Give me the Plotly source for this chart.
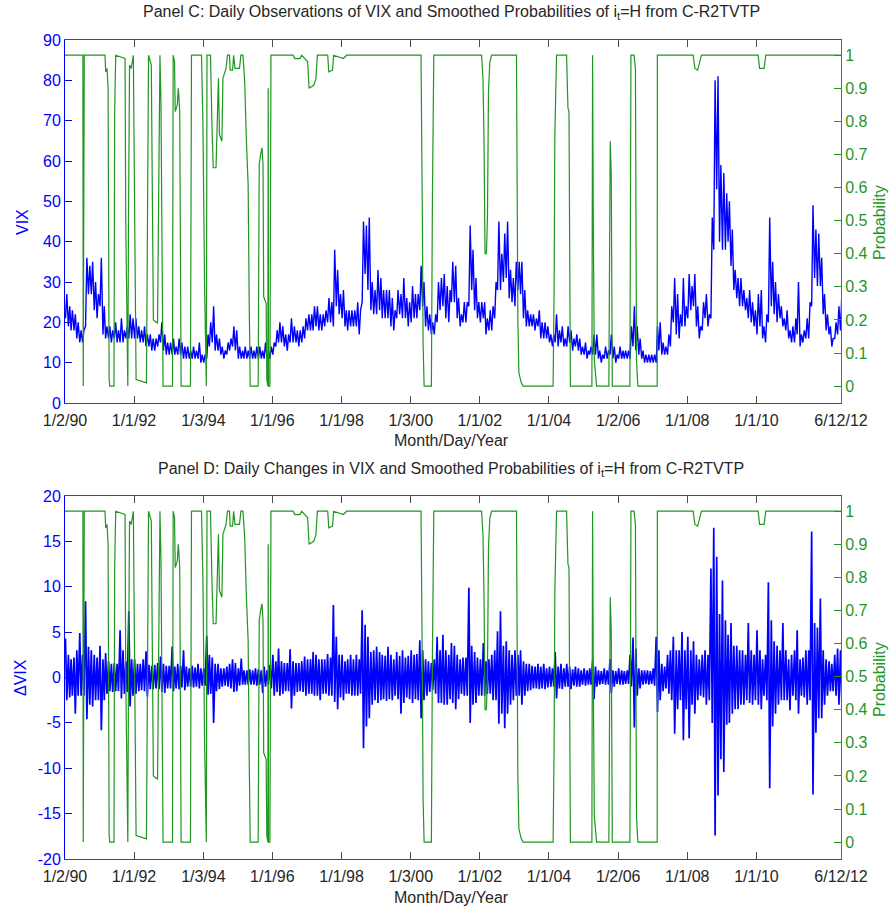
import pandas as pd
import plotly.graph_objects as go
from plotly.subplots import make_subplots

# ---------------- data ----------------
# Monthly low / high of VIX, Jan 1990 .. Jun 2012 (one row per year)
vix_low = [
    21, 19, 18, 18, 16, 15, 15, 19, 27, 27, 23, 21,   # 1990
    24, 17, 16, 16, 15, 16, 15, 15, 15, 16, 16, 16,   # 1991
    16, 16, 15, 15, 14, 14, 13, 13, 14, 15, 13, 12,   # 1992
    12, 12, 12, 12, 12, 11, 11, 11, 11, 11, 11, 10,   # 1993
    10, 11, 14, 15, 13, 13, 12, 11, 12, 13, 14, 13,   # 1994
    11, 11, 11, 11, 11, 11, 11, 11, 11, 11, 11, 11,   # 1995
    12, 14, 15, 15, 14, 13, 15, 15, 15, 14, 15, 16,   # 1996
    18, 18, 18, 19, 18, 18, 19, 20, 20, 19, 24, 22,   # 1997
    21, 19, 18, 19, 19, 19, 17, 25, 32, 28, 23, 22,   # 1998
    22, 23, 21, 21, 21, 19, 18, 21, 22, 21, 21, 19,   # 1999
    20, 21, 21, 23, 24, 19, 18, 17, 17, 20, 23, 24,   # 2000
    21, 20, 25, 25, 21, 19, 20, 20, 24, 28, 23, 21,   # 2001
    20, 21, 17, 18, 18, 21, 28, 28, 30, 31, 26, 25,   # 2002
    24, 28, 27, 21, 19, 19, 19, 18, 19, 16, 16, 16,   # 2003
    15, 14, 15, 14, 15, 14, 14, 15, 13, 14, 13, 12,   # 2004
    12, 11, 12, 12, 12, 11, 10, 11, 11, 12, 11, 10,   # 2005
    11, 11, 11, 11, 11, 14, 13, 12, 11, 10, 10, 10,   # 2006
    10, 10, 13, 12, 12, 12, 14, 20, 17, 16, 19, 19,   # 2007
    21, 23, 24, 19, 16, 18, 21, 19, 21, 38, 53, 40,   # 2008
    38, 38, 40, 34, 28, 26, 24, 24, 23, 21, 20, 19,   # 2009
    17, 19, 16, 15, 20, 24, 22, 20, 21, 19, 18, 16,   # 2010
    15, 15, 17, 14, 15, 16, 16, 24, 31, 29, 29, 22,   # 2011
    18, 17, 14, 16, 17, 18,                           # 2012
]
vix_high = [
    27, 24, 23, 22, 20, 18, 18, 36, 34, 35, 30, 27,   # 1990
    36, 24, 19, 19, 18, 20, 18, 21, 18, 19, 22, 21,   # 1991
    21, 19, 18, 19, 17, 17, 16, 16, 17, 20, 17, 15,   # 1992
    15, 16, 14, 16, 15, 14, 14, 13, 14, 13, 15, 12,   # 1993
    12, 17, 20, 24, 17, 16, 14, 13, 15, 16, 19, 18,   # 1994
    14, 13, 14, 13, 14, 13, 14, 14, 13, 15, 13, 14,   # 1995
    15, 18, 20, 19, 17, 17, 21, 19, 18, 18, 19, 21,   # 1996
    22, 22, 24, 24, 22, 22, 23, 26, 25, 38, 33, 27,   # 1997
    28, 23, 23, 23, 23, 25, 23, 45, 44, 46, 30, 28,   # 1998
    33, 31, 28, 28, 28, 26, 23, 28, 27, 31, 26, 25,   # 1999
    29, 27, 27, 34, 30, 24, 22, 20, 22, 30, 31, 32,   # 2000
    29, 28, 35, 34, 26, 22, 25, 25, 44, 38, 31, 25,   # 2001
    25, 25, 21, 23, 24, 30, 45, 37, 42, 45, 33, 31,   # 2002
    35, 35, 35, 28, 23, 22, 22, 21, 23, 20, 20, 19,   # 2003
    17, 17, 22, 18, 19, 16, 19, 18, 16, 17, 16, 14,   # 2004
    15, 13, 14, 17, 17, 13, 12, 14, 13, 17, 14, 12,   # 2005
    14, 13, 13, 13, 19, 24, 19, 16, 13, 12, 12, 12,   # 2006
    12, 19, 20, 15, 14, 17, 24, 31, 27, 22, 31, 24,   # 2007
    32, 29, 32, 24, 19, 25, 27, 22, 46, 80, 81, 59,   # 2008
    57, 52, 50, 43, 33, 31, 31, 28, 26, 28, 25, 23,   # 2009
    27, 28, 19, 22, 46, 35, 30, 27, 24, 21, 23, 18,   # 2010
    19, 21, 30, 17, 18, 21, 25, 49, 43, 42, 36, 27,   # 2011
    22, 19, 16, 20, 24, 27,                           # 2012
]
# Monthly largest rise / largest fall of daily VIX changes
dvix_max = [
    4.3, 2.5, 2.0, 2.2, 3.0, 4.9, 2.5, 8.4, 3.4, 3.0, 2.5, 2.2,   # 1990
    3.5, 2.0, 2.7, 1.8, 1.5, 1.6, 1.5, 5.2, 3.0, 1.8, 7.3, 2.0,   # 1991
    2.0, 1.5, 1.5, 2.0, 2.9, 1.4, 1.3, 1.4, 1.6, 2.3, 1.5, 1.3,   # 1992
    1.3, 3.4, 1.2, 1.5, 1.3, 3.0, 1.2, 1.0, 1.3, 1.1, 1.5, 1.0,   # 1993
    1.0, 4.6, 2.5, 2.2, 1.5, 1.5, 1.0, 1.0, 1.2, 1.5, 2.0, 1.6,   # 1994
    1.0, 2.1, 0.8, 0.8, 0.9, 0.8, 1.0, 0.9, 0.8, 1.2, 0.8, 1.4,   # 1995
    2.5, 1.8, 3.2, 1.8, 1.6, 1.6, 3.1, 1.8, 1.6, 1.6, 1.8, 2.3,   # 1996
    2.0, 2.0, 2.8, 2.5, 2.0, 2.0, 2.0, 2.6, 2.2, 8.0, 4.5, 2.5,   # 1997
    2.5, 1.8, 2.0, 2.5, 2.0, 2.5, 2.0, 7.4, 5.8, 4.5, 2.8, 3.0,   # 1998
    3.4, 2.8, 2.5, 2.4, 3.4, 2.5, 2.0, 2.8, 2.4, 3.0, 2.2, 2.4,   # 1999
    3.0, 2.5, 2.6, 4.1, 3.0, 2.0, 1.8, 1.6, 2.0, 4.5, 3.0, 4.7,   # 2000
    3.0, 2.5, 3.8, 3.5, 2.5, 2.0, 2.2, 2.2, 9.9, 3.5, 2.8, 2.2,   # 2001
    2.0, 3.8, 1.8, 2.0, 2.5, 3.0, 5.1, 7.3, 3.5, 4.0, 3.0, 2.5,   # 2002
    3.0, 2.5, 3.0, 1.8, 1.5, 1.5, 1.3, 1.2, 1.5, 1.2, 1.5, 1.0,   # 2003
    1.2, 1.0, 2.8, 1.2, 1.5, 1.0, 1.5, 1.2, 0.9, 1.2, 1.0, 0.8,   # 2004
    1.0, 0.8, 1.0, 1.9, 1.2, 0.8, 0.7, 1.0, 0.8, 2.0, 0.8, 0.7,   # 2005
    1.0, 0.8, 0.7, 0.8, 2.5, 4.4, 3.2, 1.0, 0.8, 0.8, 0.8, 0.7,   # 2006
    1.0, 4.5, 3.0, 1.5, 1.2, 2.5, 3.0, 4.5, 3.0, 3.0, 5.0, 3.0,   # 2007
    4.5, 3.0, 4.0, 2.5, 2.0, 2.5, 3.0, 2.5, 12.0, 16.5, 13.3, 7.0,  # 2008
    10.7, 6.3, 4.7, 6.0, 3.5, 3.5, 3.0, 3.0, 2.5, 6.0, 3.0, 2.5,  # 2009
    5.2, 3.0, 2.0, 2.5, 10.5, 6.3, 4.0, 3.5, 3.0, 6.0, 3.0, 2.0,  # 2010
    2.5, 3.0, 5.2, 2.0, 2.2, 3.0, 3.0, 16.1, 6.0, 5.5, 8.7, 3.0,  # 2011
    2.0, 1.8, 1.5, 2.5, 3.2, 3.0,                                 # 2012
]
dvix_min = [
    -2.5, -2.2, -2.0, -4.0, -2.0, -2.0, -2.0, -4.6, -3.0, -3.2, -2.5, -2.5,   # 1990
    -5.8, -2.5, -1.8, -1.5, -1.6, -1.5, -1.5, -2.3, -1.8, -1.6, -3.2, -2.0,   # 1991
    -1.8, -1.5, -1.4, -1.5, -2.1, -1.3, -1.3, -1.2, -1.3, -1.6, -1.7, -1.2,   # 1992
    -1.2, -1.5, -1.2, -1.3, -1.1, -1.4, -1.0, -1.0, -1.1, -1.0, -1.2, -0.9,   # 1993
    -0.9, -1.9, -1.8, -5.0, -1.5, -1.3, -1.0, -0.9, -1.0, -1.2, -1.6, -1.5,   # 1994
    -0.9, -0.8, -0.8, -0.8, -0.8, -0.8, -0.9, -0.8, -1.7, -1.0, -0.8, -1.2,   # 1995
    -2.0, -1.6, -2.0, -1.8, -1.5, -1.5, -3.4, -2.0, -1.6, -1.5, -1.6, -2.0,   # 1996
    -1.8, -1.8, -2.0, -2.0, -2.5, -1.8, -1.8, -2.0, -2.0, -2.7, -3.5, -2.2,   # 1997
    -2.5, -1.8, -1.8, -2.0, -2.0, -2.0, -1.8, -7.8, -5.4, -4.5, -3.0, -2.5,   # 1998
    -2.8, -2.5, -2.4, -2.6, -2.4, -2.5, -2.0, -2.4, -4.0, -2.8, -2.2, -2.4,   # 1999
    -2.8, -2.4, -2.5, -4.5, -2.5, -2.0, -1.6, -1.4, -1.8, -2.8, -2.8, -3.0,   # 2000
    -3.0, -2.4, -2.8, -3.5, -2.4, -1.8, -2.0, -2.0, -5.0, -3.0, -2.8, -2.0,   # 2001
    -2.0, -2.0, -1.8, -1.8, -2.5, -2.5, -5.1, -4.0, -5.6, -4.0, -3.0, -2.5,   # 2002
    -2.0, -2.0, -3.0, -2.0, -1.5, -1.4, -1.2, -1.2, -1.3, -1.2, -1.3, -1.1,   # 2003
    -1.0, -1.0, -2.3, -1.2, -1.3, -1.0, -1.0, -1.3, -0.9, -1.0, -1.0, -0.8,   # 2004
    -0.9, -0.8, -0.8, -2.4, -1.0, -0.8, -0.7, -0.8, -0.8, -1.7, -1.0, -0.7,   # 2005
    -0.8, -0.8, -0.7, -0.7, -1.0, -5.5, -2.0, -1.2, -0.8, -0.7, -0.8, -0.7,   # 2006
    -0.9, -3.8, -2.5, -1.5, -1.2, -1.8, -2.5, -6.2, -3.5, -2.5, -6.9, -3.5,   # 2007
    -6.7, -3.0, -4.0, -2.5, -2.0, -2.2, -3.0, -2.5, -5.0, -17.4, -13.0, -9.0, # 2008
    -10.4, -5.2, -5.0, -4.0, -3.5, -3.5, -3.0, -3.0, -2.5, -2.8, -3.0, -2.5,  # 2009
    -3.0, -3.5, -2.0, -2.5, -12.2, -5.4, -4.0, -3.0, -2.5, -2.5, -2.5, -3.6,  # 2010
    -2.0, -2.5, -4.0, -2.0, -2.2, -3.0, -2.5, -12.9, -6.1, -4.5, -4.5, -3.0,  # 2011
    -2.0, -1.5, -1.5, -2.0, -3.0, -2.8,                                       # 2012
]
# Smoothed probability of i_t = H: (decimal year, probability) break points
prob_year = [
    1990.00, 1990.52, 1990.53, 1990.545, 1990.56,
    1991.16, 1991.18, 1991.22, 1991.25, 1991.28, 1991.30, 1991.42, 1991.44, 1991.47,
    1991.74, 1991.76, 1991.80, 1991.82, 1991.84, 1991.87, 1991.92, 1991.98, 1992.02,
    1992.06, 1992.36, 1992.40, 1992.42,
    1992.50, 1992.53, 1992.56, 1992.68, 1992.72, 1992.75, 1992.78, 1992.82, 1992.84,
    1993.11, 1993.13, 1993.17, 1993.19, 1993.25, 1993.28, 1993.32, 1993.36,
    1993.63, 1993.66, 1993.95, 1993.99, 1994.04, 1994.07, 1994.09, 1994.11, 1994.21,
    1994.25, 1994.29, 1994.37, 1994.41, 1994.44, 1994.47, 1994.54, 1994.57, 1994.66,
    1994.70, 1994.76, 1994.78, 1994.85, 1994.88, 1994.92, 1995.05, 1995.09, 1995.15,
    1995.20, 1995.25, 1995.30, 1995.33, 1995.36, 1995.59, 1995.62, 1995.66, 1995.70,
    1995.73, 1995.75, 1995.82, 1995.84, 1995.87, 1995.88, 1995.89, 1995.93, 1995.96,
    1996.60, 1996.65, 1996.80, 1996.85, 1997.02, 1997.06, 1997.20, 1997.26, 1997.30,
    1997.60, 1997.63, 1997.74, 1997.77, 1998.05, 1998.15,
    2000.30, 2000.34, 2000.36, 2000.39, 2000.60, 2000.63, 2000.67,
    2002.05, 2002.09, 2002.12, 2002.15, 2002.19, 2002.22, 2002.25, 2002.29, 2002.34,
    2003.06, 2003.10, 2003.13, 2003.20, 2003.25,
    2004.12, 2004.15, 2004.17, 2004.22, 2004.51, 2004.55, 2004.58, 2004.61, 2004.62,
    2005.24, 2005.26, 2005.28, 2005.31, 2005.375, 2005.73, 2005.77, 2005.80, 2005.83,
    2006.34, 2006.37, 2006.46, 2006.50, 2006.53, 2006.57,
    2007.13, 2007.135, 2008.17, 2008.22, 2008.30, 2008.36, 2008.41,
    2010.05, 2010.09, 2010.22, 2010.27, 2012.45,
]
prob_value = [
    1, 1, 0, 0.82, 1,
    1, 0.95, 0.96, 0.9, 0.02, 0, 0, 0.83, 1,
    0.99, 0.5, 0, 0, 0.5, 0.97, 0.96, 1, 0.5,
    0.02, 0.01, 0.9, 1,
    0.97, 0.5, 0.2, 0.19, 0.7, 1, 0.85, 0.02, 0,
    0, 1, 0.98, 0.83, 0.85, 0.9, 0.83, 0,
    0, 1, 1, 0.8, 0.3, 0, 0, 1, 1,
    0.8, 0.66, 0.66, 0.8, 0.93, 0.76, 0.74, 0.93, 0.96,
    1, 1, 0.955, 0.955, 1, 0.96, 0.96, 1, 1,
    0.92, 0.74, 0.61, 0.26, 0, 0, 0.67, 0.70, 0.72,
    0.67, 0.27, 0.25, 0.02, 0, 0.9, 0, 0, 1,
    1, 0.99, 0.99, 1, 0.98, 0.90, 0.91, 0.93, 1,
    1, 0.95, 0.955, 1, 0.99, 1,
    1, 0.5, 0.13, 0, 0, 0.57, 1,
    1, 0.93, 0.75, 0.40, 0.40, 0.51, 0.89, 0.98, 1,
    1, 0.2, 0.04, 0.01, 0,
    0, 0.3, 0.76, 1, 1, 0.84, 0.83, 0.05, 0,
    0, 1, 0.5, 0.08, 0, 0, 0.74, 0.64, 0,
    0, 1, 1, 0.96, 0.08, 0,
    0, 1, 1, 0.96, 0.955, 0.98, 1,
    1, 0.96, 0.96, 1, 1,
]
tick_dates = ["1990-01-02", "1992-01-01", "1994-01-03", "1996-01-01", "1998-01-01",
              "2000-01-03", "2002-01-01", "2004-01-01", "2006-01-02", "2008-01-01",
              "2010-01-01", "2012-06-12"]
tick_labels = ["1/2/90", "1/1/92", "1/3/94", "1/1/96", "1/1/98", "1/3/00",
               "1/1/02", "1/1/04", "1/2/06", "1/1/08", "1/1/10", "6/12/12"]
dvix_ticks = [-20, -15, -10, -5, 0, 5, 10, 15, 20]
dvix_tick_labels = ["-20", "-15", "-10", "-5", "0", "5", "10", "15", "20"]
prob_ticks = [0, 0.1, 0.2, 0.3, 0.4, 0.5, 0.6, 0.7, 0.8, 0.9, 1]
prob_tick_labels = ["0", "0.1", "0.2", "0.3", "0.4", "0.5", "0.6", "0.7", "0.8", "0.9", "1"]

assert len(vix_low) == len(vix_high) == len(dvix_max) == len(dvix_min) == 270
assert len(prob_year) == len(prob_value)

# ---------------- build series ----------------
months = pd.date_range("1990-01-01", periods=270, freq="MS")


def zigzag(first, second):
    xs, ys = [], []
    for m, a, b in zip(months, first, second):
        xs += [m + pd.Timedelta(days=6), m + pd.Timedelta(days=20)]
        ys += [a, b]
    return xs, ys


def from_decimal(y):
    base = int(y)
    return pd.Timestamp(f"{base}-01-01") + pd.Timedelta(days=(y - base) * 365.25)


vix_x, vix_y = zigzag(vix_low, vix_high)
dv_x, dv_y = zigzag(dvix_max, dvix_min)
prob_x = [from_decimal(y) for y in prob_year]

BLUE = "#0000FF"
GREEN = "#1f961f"
FONT = "Liberation Sans, Arial, sans-serif"
TXT = "#262626"
AX = "#4d4d4d"

fig = make_subplots(rows=2, cols=1, specs=[[{"secondary_y": True}], [{"secondary_y": True}]])

fig.add_trace(go.Scatter(x=vix_x, y=vix_y, mode="lines", line=dict(color=BLUE, width=1.4),
                         showlegend=False, hoverinfo="skip"), row=1, col=1, secondary_y=False)
fig.add_trace(go.Scatter(x=prob_x, y=prob_value, mode="lines", line=dict(color=GREEN, width=1.2),
                         showlegend=False, hoverinfo="skip"), row=1, col=1, secondary_y=True)
fig.add_trace(go.Scatter(x=dv_x, y=dv_y, mode="lines", line=dict(color=BLUE, width=1.7),
                         showlegend=False, hoverinfo="skip"), row=2, col=1, secondary_y=False)
fig.add_trace(go.Scatter(x=prob_x, y=prob_value, mode="lines", line=dict(color=GREEN, width=1.2),
                         showlegend=False, hoverinfo="skip"), row=2, col=1, secondary_y=True)

W, H = 890, 909
L, R, T, B = 65, 49, 40, 50
ph = H - T - B


def py(pix):  # pixel y -> paper fraction
    return (H - B - pix) / ph


def px(pix):
    return (pix - L) / (W - L - R)


top_dom = [py(403), 1.0]
bot_dom = [0.0, py(496)]

xcommon = dict(type="date", range=["1990-01-02", "2012-06-12"], tickvals=tick_dates,
               ticktext=tick_labels, ticks="inside", ticklen=7, tickcolor=AX,
               showline=True, linecolor=AX, linewidth=1, mirror="ticks",
               showgrid=False, zeroline=False, tickfont=dict(family=FONT, size=16, color=TXT),
               ticklabelstandoff=3, domain=[0, 1])
fig.update_layout(xaxis=dict(**xcommon, anchor="y"), xaxis2=dict(**xcommon, anchor="y3"))

yl = dict(ticks="inside", ticklen=7, tickcolor=BLUE, showline=True, linecolor=BLUE, linewidth=1,
          showgrid=False, zeroline=False, tickfont=dict(family=FONT, size=16, color=BLUE))
yr = dict(ticks="inside", ticklen=7, tickcolor=GREEN, showline=True, linecolor=GREEN, linewidth=1,
          showgrid=False, zeroline=False, tickfont=dict(family=FONT, size=16, color=GREEN),
          range=[-0.051, 1.046], tickvals=prob_ticks, ticktext=prob_tick_labels)
fig.update_layout(
    yaxis=dict(**yl, range=[0, 90], dtick=10, domain=top_dom),
    yaxis2=dict(**yr, domain=top_dom),
    yaxis3=dict(**yl, range=[-20, 20], tickvals=dvix_ticks, ticktext=dvix_tick_labels,
                domain=bot_dom),
    yaxis4=dict(**yr, domain=bot_dom),
)

ann = []
tfont = dict(family=FONT, size=16, color=TXT)
ann.append(dict(text="Panel C: Daily Observations of VIX and Smoothed Probabilities of i<sub>t</sub>=H from C-R2TVTP",
                x=px(451), y=py(13), xref="paper", yref="paper", showarrow=False, font=tfont,
                xanchor="center", yanchor="middle"))
ann.append(dict(text="Panel D: Daily Changes in VIX and Smoothed Probabilities of i<sub>t</sub>=H from C-R2TVTP",
                x=px(451), y=py(469), xref="paper", yref="paper", showarrow=False, font=tfont,
                xanchor="center", yanchor="middle"))
for yy in (440, 897):
    ann.append(dict(text="Month/Day/Year", x=px(451), y=py(yy), xref="paper", yref="paper",
                    showarrow=False, font=tfont, xanchor="center", yanchor="middle"))
ann.append(dict(text="VIX", x=px(22), y=py(222), xref="paper", yref="paper", showarrow=False,
                textangle=-90, font=dict(family=FONT, size=16, color=BLUE),
                xanchor="center", yanchor="middle"))
ann.append(dict(text="ΔVIX", x=px(20), y=py(678), xref="paper", yref="paper", showarrow=False,
                textangle=-90, font=dict(family=FONT, size=16, color=BLUE),
                xanchor="center", yanchor="middle"))
for yy in (223, 680):
    ann.append(dict(text="Probability", x=px(879), y=py(yy), xref="paper", yref="paper",
                    showarrow=False, textangle=-90, font=dict(family=FONT, size=16, color=GREEN),
                    xanchor="center", yanchor="middle"))

fig.update_layout(width=W, height=H, margin=dict(l=L, r=R, t=T, b=B, pad=0),
                  paper_bgcolor="white", plot_bgcolor="white", annotations=ann,
                  font=dict(family=FONT), showlegend=False)

fig.write_html("out.html")
